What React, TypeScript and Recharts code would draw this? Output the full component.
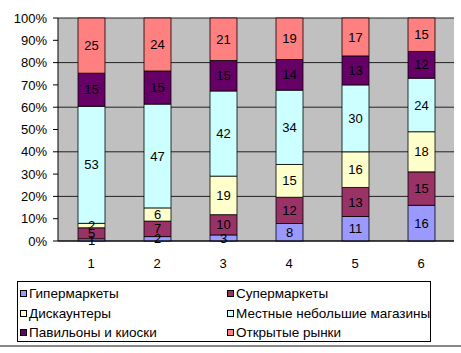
import React from "react";
import { BarChart, Bar, XAxis, YAxis, CartesianGrid, LabelList } from "recharts";

// shares by store type, 6 groups (bars are normalized to 100%)
const categories = ["1", "2", "3", "4", "5", "6"];
const hyper = [1, 2, 3, 8, 11, 16];
const supermarkets = [5, 7, 10, 12, 13, 15];
const discounters = [2, 6, 19, 15, 16, 18];
const localShops = [53, 47, 42, 34, 30, 24];
const kiosks = [15, 15, 15, 14, 13, 12];
const markets = [25, 24, 21, 19, 17, 15];

const yTicks = [0, 0.1, 0.2, 0.3, 0.4, 0.5, 0.6, 0.7, 0.8, 0.9, 1];
const xBoundaryTicks = [0, 1, 2, 3, 4, 5, 6];

const series = [
  { key: "hyper", name: "Гипермаркеты", color: "#9999FF", values: hyper },
  { key: "super", name: "Супермаркеты", color: "#993366", values: supermarkets },
  { key: "disc", name: "Дискаунтеры", color: "#FFFFCC", values: discounters },
  { key: "local", name: "Местные небольшие магазины", color: "#CCFFFF", values: localShops },
  { key: "kiosk", name: "Павильоны и киоски", color: "#660066", values: kiosks },
  { key: "market", name: "Открытые рынки", color: "#FF8080", values: markets },
];

const data = categories.map((c, i) => {
  const row: Record<string, string | number> = { cat: c };
  series.forEach((s) => {
    row[s.key] = s.values[i];
  });
  return row;
});

const font = "'Liberation Sans', Arial, sans-serif";

export default function App() {
  return (
    <div
      style={{
        position: "absolute",
        left: 0,
        top: 0,
        width: 461,
        height: 353,
        background: "#fff",
        fontFamily: font,
      }}
    >
      <BarChart
        width={461}
        height={270}
        data={data}
        stackOffset="expand"
        margin={{ top: 18, right: 7, bottom: 0, left: 0 }}
        barSize={27}
      >
        <CartesianGrid
          vertical={false}
          fill="#C0C0C0"
          stroke="#222"
          strokeOpacity={1}
        />
        <XAxis
          xAxisId="bounds"
          type="number"
          domain={[0, 6]}
          ticks={xBoundaryTicks}
          allowDataOverflow
          height={0}
          tick={false}
          axisLine={false}
          tickLine={{ stroke: "#000" }}
          tickSize={4}
        />
        <XAxis
          dataKey="cat"
          height={29}
          axisLine={{ stroke: "#000" }}
          tickLine={false}
          tickMargin={12}
          tick={{ fontSize: 13, fill: "#000", fontFamily: font }}
        />
        <YAxis
          width={58}
          domain={[0, 1]}
          ticks={yTicks}
          tickFormatter={(v) => `${Math.round(v * 100)}%`}
          axisLine={{ stroke: "#000" }}
          tickLine={{ stroke: "#000" }}
          tickSize={5}
          tickMargin={6}
          tick={{ fontSize: 13, fill: "#000", fontFamily: font }}
        />
        {series.map((s) => (
          <Bar
            key={s.key}
            dataKey={s.key}
            name={s.name}
            stackId="a"
            fill={s.color}
            stroke="#000"
            strokeWidth={0.8}
            isAnimationActive={false}
          >
            <LabelList
              dataKey={s.key}
              position="center"
              style={{ fontSize: 13, fill: "#000", fontFamily: font }}
            />
          </Bar>
        ))}
      </BarChart>

      <div
        style={{
          position: "absolute",
          left: 17,
          top: 281,
          width: 414,
          height: 61,
          border: "1px solid #000",
          display: "grid",
          gridTemplateColumns: "207px 1fr",
          gridAutoRows: "19.5px",
          paddingTop: 2,
          boxSizing: "border-box",
          fontSize: 13.5,
        }}
      >
        {series.map((s) => (
          <div
            key={s.key}
            style={{
              display: "flex",
              alignItems: "center",
              paddingLeft: 2,
              whiteSpace: "nowrap",
            }}
          >
            <span
              style={{
                display: "inline-block",
                width: 5,
                height: 5,
                background: s.color,
                border: "1px solid #000",
                marginRight: 2,
              }}
            />
            <span>{s.name}</span>
          </div>
        ))}
      </div>

      <div
        style={{
          position: "absolute",
          left: 0,
          top: 345,
          width: 461,
          height: 2,
          background: "#888",
        }}
      />
    </div>
  );
}
